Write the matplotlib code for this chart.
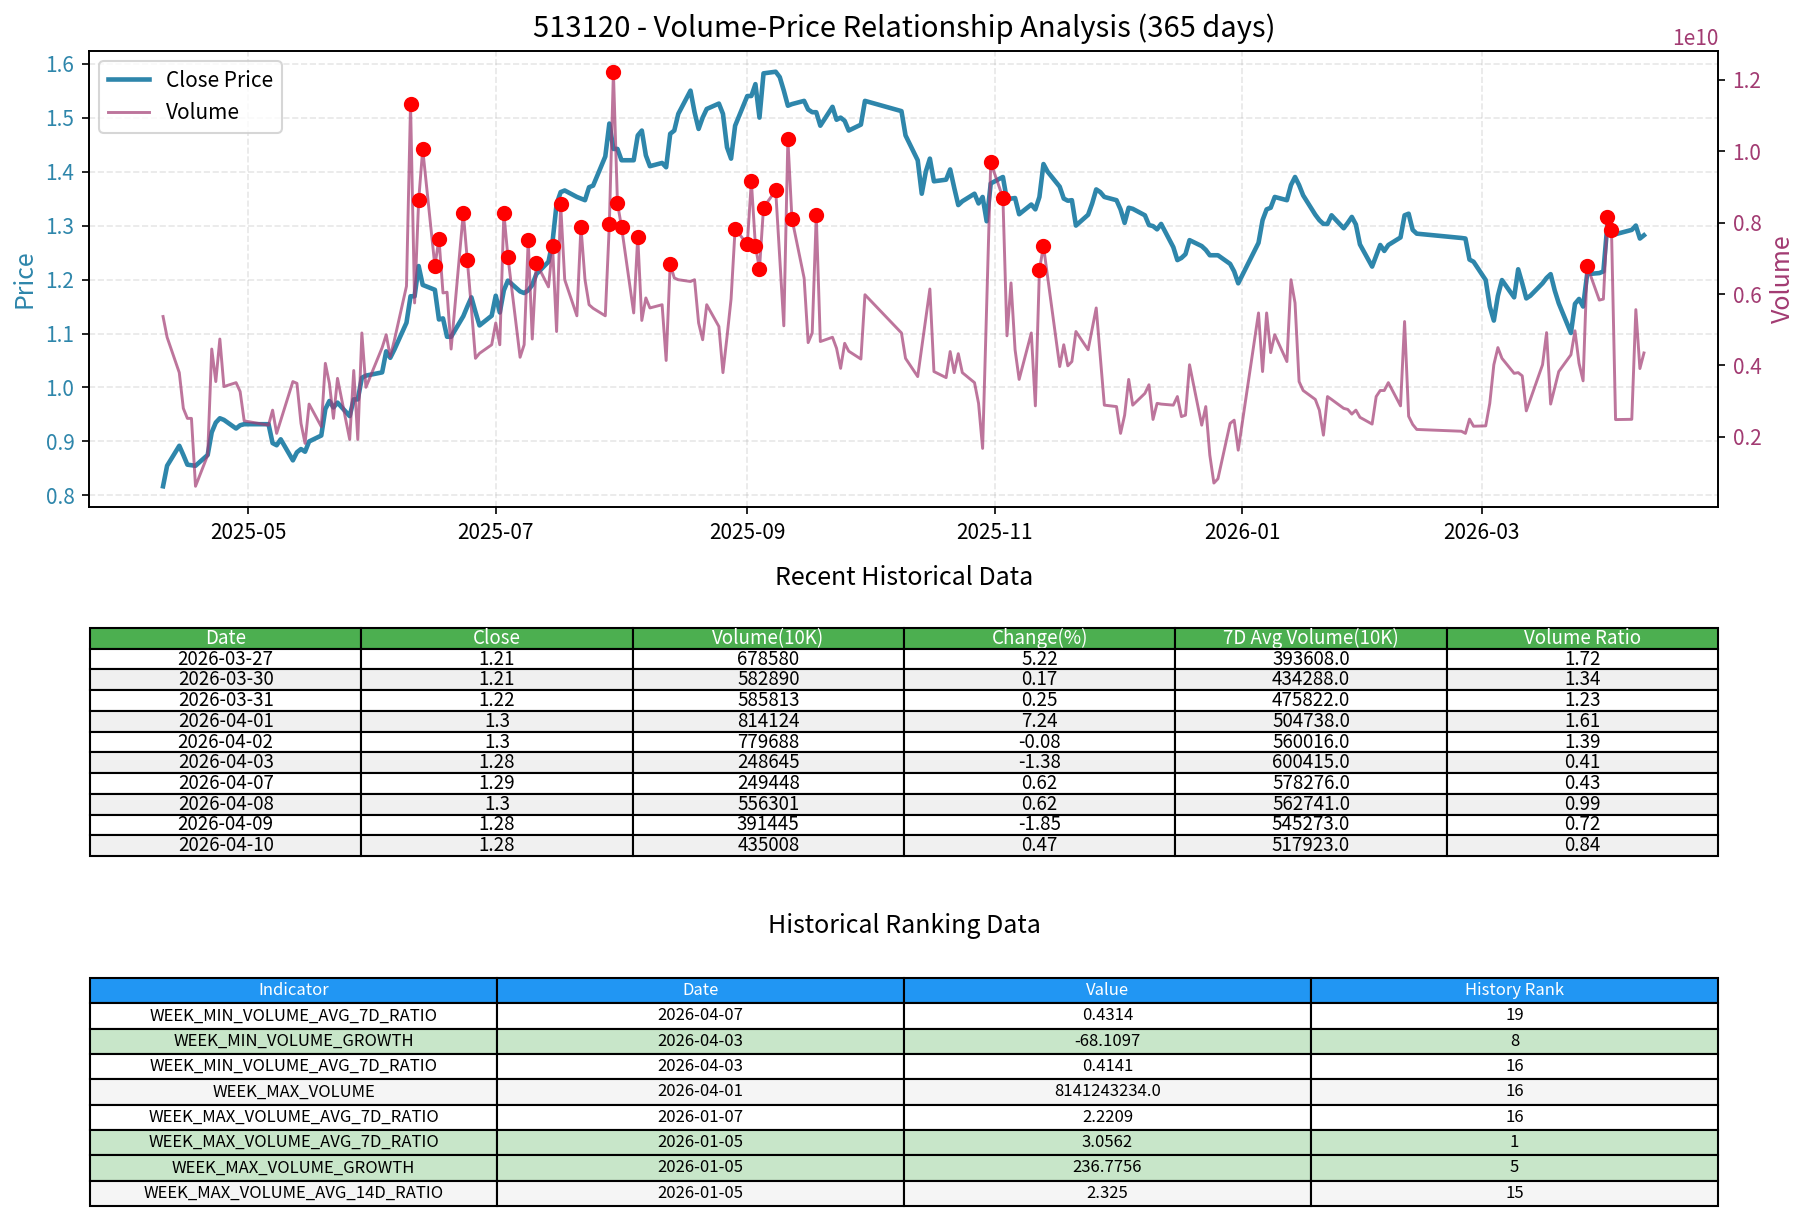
import pandas as pd
import matplotlib.pyplot as plt
import matplotlib.dates as mdates

plt.rcParams['font.family'] = ['Noto Sans CJK SC', 'DejaVu Sans']
plt.rcParams['axes.unicode_minus'] = False

# close price
price_dates = [
    '2025-04-10', '2025-04-11', '2025-04-14', '2025-04-15', '2025-04-16', '2025-04-17', '2025-04-18',
    '2025-04-21', '2025-04-22', '2025-04-23', '2025-04-24', '2025-04-25', '2025-04-28', '2025-04-29',
    '2025-04-30', '2025-05-06', '2025-05-07', '2025-05-08', '2025-05-09', '2025-05-12', '2025-05-13',
    '2025-05-14', '2025-05-15', '2025-05-16', '2025-05-19', '2025-05-20', '2025-05-21', '2025-05-22',
    '2025-05-23', '2025-05-26', '2025-05-27', '2025-05-28', '2025-05-29', '2025-05-30', '2025-06-03',
    '2025-06-04', '2025-06-05', '2025-06-06', '2025-06-09', '2025-06-10', '2025-06-11', '2025-06-12',
    '2025-06-13', '2025-06-16', '2025-06-17', '2025-06-18', '2025-06-19', '2025-06-20', '2025-06-23',
    '2025-06-24', '2025-06-25', '2025-06-26', '2025-06-27', '2025-06-30', '2025-07-01', '2025-07-02',
    '2025-07-03', '2025-07-04', '2025-07-07', '2025-07-08', '2025-07-09', '2025-07-10', '2025-07-11',
    '2025-07-14', '2025-07-15', '2025-07-16', '2025-07-17', '2025-07-18', '2025-07-21', '2025-07-22',
    '2025-07-23', '2025-07-24', '2025-07-25', '2025-07-28', '2025-07-29', '2025-07-30', '2025-07-31',
    '2025-08-01', '2025-08-04', '2025-08-05', '2025-08-06', '2025-08-07', '2025-08-08', '2025-08-11',
    '2025-08-12', '2025-08-13', '2025-08-14', '2025-08-15', '2025-08-18', '2025-08-19', '2025-08-20',
    '2025-08-21', '2025-08-22', '2025-08-25', '2025-08-26', '2025-08-27', '2025-08-28', '2025-08-29',
    '2025-09-01', '2025-09-02', '2025-09-03', '2025-09-04', '2025-09-05', '2025-09-08', '2025-09-09',
    '2025-09-10', '2025-09-11', '2025-09-12', '2025-09-15', '2025-09-16', '2025-09-17', '2025-09-18',
    '2025-09-19', '2025-09-22', '2025-09-23', '2025-09-24', '2025-09-25', '2025-09-26', '2025-09-29',
    '2025-09-30', '2025-10-09', '2025-10-10', '2025-10-13', '2025-10-14', '2025-10-15', '2025-10-16',
    '2025-10-17', '2025-10-20', '2025-10-21', '2025-10-22', '2025-10-23', '2025-10-24', '2025-10-27',
    '2025-10-28', '2025-10-29', '2025-10-30', '2025-10-31', '2025-11-03', '2025-11-04', '2025-11-05',
    '2025-11-06', '2025-11-07', '2025-11-10', '2025-11-11', '2025-11-12', '2025-11-13', '2025-11-14',
    '2025-11-17', '2025-11-18', '2025-11-19', '2025-11-20', '2025-11-21', '2025-11-24', '2025-11-25',
    '2025-11-26', '2025-11-27', '2025-11-28', '2025-12-01', '2025-12-02', '2025-12-03', '2025-12-04',
    '2025-12-05', '2025-12-08', '2025-12-09', '2025-12-10', '2025-12-11', '2025-12-12', '2025-12-15',
    '2025-12-16', '2025-12-17', '2025-12-18', '2025-12-19', '2025-12-22', '2025-12-23', '2025-12-24',
    '2025-12-25', '2025-12-26', '2025-12-29', '2025-12-30', '2025-12-31', '2026-01-05', '2026-01-06',
    '2026-01-07', '2026-01-08', '2026-01-09', '2026-01-12', '2026-01-13', '2026-01-14', '2026-01-15',
    '2026-01-16', '2026-01-19', '2026-01-20', '2026-01-21', '2026-01-22', '2026-01-23', '2026-01-26',
    '2026-01-27', '2026-01-28', '2026-01-29', '2026-01-30', '2026-02-02', '2026-02-03', '2026-02-04',
    '2026-02-05', '2026-02-06', '2026-02-09', '2026-02-10', '2026-02-11', '2026-02-12', '2026-02-13',
    '2026-02-24', '2026-02-25', '2026-02-26', '2026-02-27', '2026-03-02', '2026-03-03', '2026-03-04',
    '2026-03-05', '2026-03-06', '2026-03-09', '2026-03-10', '2026-03-11', '2026-03-12', '2026-03-13',
    '2026-03-16', '2026-03-17', '2026-03-18', '2026-03-19', '2026-03-20', '2026-03-23', '2026-03-24',
    '2026-03-25', '2026-03-26', '2026-03-27', '2026-03-30', '2026-03-31', '2026-04-01', '2026-04-02',
    '2026-04-03', '2026-04-07', '2026-04-08', '2026-04-09', '2026-04-10',
]
price_close = [
    0.817, 0.855, 0.892, 0.875, 0.857, 0.856, 0.855,
    0.875, 0.917, 0.935, 0.943, 0.940, 0.924, 0.930,
    0.932, 0.932, 0.897, 0.893, 0.904, 0.865, 0.880,
    0.886, 0.881, 0.900, 0.911, 0.960, 0.975, 0.963,
    0.972, 0.947, 0.978, 0.978, 1.018, 1.022, 1.028,
    1.067, 1.055, 1.070, 1.120, 1.169, 1.169, 1.225,
    1.190, 1.181, 1.126, 1.128, 1.094, 1.094, 1.132,
    1.150, 1.167, 1.140, 1.115, 1.133, 1.170, 1.139,
    1.180, 1.198, 1.178, 1.175, 1.180, 1.190, 1.210,
    1.233, 1.270, 1.340, 1.362, 1.365, 1.353, 1.350,
    1.347, 1.371, 1.374, 1.428, 1.489, 1.442, 1.442,
    1.421, 1.421, 1.467, 1.476, 1.430, 1.410, 1.416,
    1.408, 1.470, 1.476, 1.507, 1.550, 1.510, 1.479,
    1.500, 1.516, 1.526, 1.507, 1.445, 1.424, 1.485,
    1.540, 1.540, 1.562, 1.500, 1.582, 1.585, 1.575,
    1.550, 1.522, 1.525, 1.531, 1.515, 1.510, 1.510,
    1.485, 1.520, 1.496, 1.500, 1.494, 1.476, 1.487,
    1.531, 1.512, 1.467, 1.421, 1.359, 1.400, 1.424,
    1.382, 1.385, 1.404, 1.370, 1.338, 1.345, 1.359,
    1.341, 1.353, 1.308, 1.378, 1.390, 1.347, 1.350,
    1.351, 1.321, 1.339, 1.330, 1.353, 1.414, 1.400,
    1.372, 1.350, 1.346, 1.347, 1.300, 1.320, 1.341,
    1.367, 1.362, 1.353, 1.347, 1.330, 1.305, 1.333,
    1.331, 1.319, 1.301, 1.299, 1.293, 1.303, 1.260,
    1.236, 1.240, 1.247, 1.273, 1.262, 1.255, 1.245,
    1.245, 1.245, 1.229, 1.215, 1.193, 1.268, 1.310,
    1.330, 1.333, 1.353, 1.347, 1.375, 1.390, 1.375,
    1.356, 1.320, 1.310, 1.303, 1.303, 1.319, 1.295,
    1.305, 1.316, 1.302, 1.265, 1.224, 1.244, 1.264,
    1.253, 1.264, 1.278, 1.319, 1.322, 1.292, 1.285,
    1.277, 1.276, 1.237, 1.233, 1.199, 1.150, 1.124,
    1.170, 1.199, 1.167, 1.219, 1.193, 1.165, 1.170,
    1.193, 1.203, 1.210, 1.180, 1.156, 1.101, 1.155,
    1.164, 1.150, 1.210, 1.212, 1.215, 1.303, 1.302,
    1.284, 1.292, 1.300, 1.276, 1.282,
]

# volume in units of 1e10
vol_dates = [
    '2025-04-10', '2025-04-11', '2025-04-14', '2025-04-15', '2025-04-16', '2025-04-17', '2025-04-18',
    '2025-04-21', '2025-04-22', '2025-04-23', '2025-04-24', '2025-04-25', '2025-04-28', '2025-04-29',
    '2025-04-30', '2025-05-06', '2025-05-07', '2025-05-08', '2025-05-12', '2025-05-13', '2025-05-14',
    '2025-05-15', '2025-05-16', '2025-05-19', '2025-05-20', '2025-05-21', '2025-05-22', '2025-05-23',
    '2025-05-26', '2025-05-27', '2025-05-28', '2025-05-29', '2025-05-30', '2025-06-03', '2025-06-04',
    '2025-06-05', '2025-06-06', '2025-06-09', '2025-06-10', '2025-06-11', '2025-06-12', '2025-06-13',
    '2025-06-16', '2025-06-17', '2025-06-18', '2025-06-19', '2025-06-20', '2025-06-23', '2025-06-24',
    '2025-06-25', '2025-06-26', '2025-06-27', '2025-06-30', '2025-07-01', '2025-07-02', '2025-07-03',
    '2025-07-04', '2025-07-07', '2025-07-08', '2025-07-09', '2025-07-10', '2025-07-11', '2025-07-14',
    '2025-07-15', '2025-07-16', '2025-07-17', '2025-07-18', '2025-07-21', '2025-07-22', '2025-07-23',
    '2025-07-24', '2025-07-25', '2025-07-28', '2025-07-29', '2025-07-30', '2025-07-31', '2025-08-01',
    '2025-08-04', '2025-08-05', '2025-08-06', '2025-08-07', '2025-08-08', '2025-08-11', '2025-08-12',
    '2025-08-13', '2025-08-14', '2025-08-15', '2025-08-18', '2025-08-19', '2025-08-20', '2025-08-21',
    '2025-08-22', '2025-08-25', '2025-08-26', '2025-08-27', '2025-08-28', '2025-08-29', '2025-09-01',
    '2025-09-02', '2025-09-03', '2025-09-04', '2025-09-05', '2025-09-08', '2025-09-10', '2025-09-11',
    '2025-09-12', '2025-09-15', '2025-09-16', '2025-09-17', '2025-09-18', '2025-09-19', '2025-09-22',
    '2025-09-23', '2025-09-24', '2025-09-25', '2025-09-26', '2025-09-29', '2025-09-30', '2025-10-09',
    '2025-10-10', '2025-10-13', '2025-10-16', '2025-10-17', '2025-10-20', '2025-10-21', '2025-10-22',
    '2025-10-23', '2025-10-24', '2025-10-27', '2025-10-28', '2025-10-29', '2025-10-31', '2025-11-03',
    '2025-11-04', '2025-11-05', '2025-11-06', '2025-11-07', '2025-11-10', '2025-11-11', '2025-11-12',
    '2025-11-13', '2025-11-17', '2025-11-18', '2025-11-19', '2025-11-20', '2025-11-21', '2025-11-24',
    '2025-11-26', '2025-11-28', '2025-12-01', '2025-12-02', '2025-12-03', '2025-12-04', '2025-12-05',
    '2025-12-08', '2025-12-09', '2025-12-10', '2025-12-11', '2025-12-12', '2025-12-15', '2025-12-16',
    '2025-12-17', '2025-12-18', '2025-12-19', '2025-12-22', '2025-12-23', '2025-12-24', '2025-12-25',
    '2025-12-26', '2025-12-29', '2025-12-30', '2025-12-31', '2026-01-05', '2026-01-06', '2026-01-07',
    '2026-01-08', '2026-01-09', '2026-01-12', '2026-01-13', '2026-01-14', '2026-01-15', '2026-01-16',
    '2026-01-19', '2026-01-20', '2026-01-21', '2026-01-22', '2026-01-23', '2026-01-26', '2026-01-27',
    '2026-01-28', '2026-01-29', '2026-01-30', '2026-02-02', '2026-02-03', '2026-02-04', '2026-02-05',
    '2026-02-06', '2026-02-09', '2026-02-10', '2026-02-11', '2026-02-12', '2026-02-13', '2026-02-24',
    '2026-02-25', '2026-02-26', '2026-02-27', '2026-03-02', '2026-03-03', '2026-03-04', '2026-03-05',
    '2026-03-06', '2026-03-09', '2026-03-10', '2026-03-11', '2026-03-12', '2026-03-16', '2026-03-17',
    '2026-03-18', '2026-03-20', '2026-03-23', '2026-03-24', '2026-03-25', '2026-03-26', '2026-03-27',
    '2026-03-30', '2026-03-31', '2026-04-01', '2026-04-02', '2026-04-03', '2026-04-07', '2026-04-08',
    '2026-04-09', '2026-04-10',
]
vol_values = [
    0.537, 0.479, 0.380, 0.280, 0.252, 0.252, 0.062,
    0.149, 0.446, 0.355, 0.474, 0.341, 0.352, 0.327,
    0.245, 0.233, 0.275, 0.210, 0.355, 0.350, 0.238,
    0.182, 0.292, 0.229, 0.406, 0.350, 0.252, 0.364,
    0.193, 0.386, 0.193, 0.491, 0.339, 0.450, 0.486,
    0.425, 0.470, 0.622, 1.132, 0.575, 0.862, 1.005,
    0.678, 0.755, 0.603, 0.605, 0.446, 0.827, 0.694,
    0.560, 0.420, 0.434, 0.458, 0.519, 0.458, 0.827,
    0.704, 0.423, 0.458, 0.750, 0.474, 0.687, 0.620,
    0.734, 0.495, 0.851, 0.640, 0.539, 0.788, 0.640,
    0.570, 0.560, 0.539, 0.795, 1.222, 0.854, 0.788,
    0.547, 0.760, 0.526, 0.589, 0.561, 0.570, 0.414,
    0.684, 0.645, 0.640, 0.635, 0.640, 0.519, 0.472,
    0.570, 0.509, 0.380, 0.480, 0.586, 0.783, 0.739,
    0.916, 0.735, 0.670, 0.842, 0.890, 0.511, 1.033,
    0.811, 0.645, 0.464, 0.491, 0.820, 0.467, 0.479,
    0.448, 0.392, 0.462, 0.440, 0.418, 0.598, 0.491,
    0.420, 0.369, 0.614, 0.383, 0.366, 0.439, 0.380,
    0.433, 0.380, 0.352, 0.294, 0.168, 0.968, 0.870,
    0.483, 0.631, 0.444, 0.361, 0.491, 0.287, 0.668,
    0.734, 0.397, 0.458, 0.399, 0.411, 0.495, 0.444,
    0.561, 0.289, 0.285, 0.210, 0.261, 0.361, 0.289,
    0.322, 0.346, 0.249, 0.294, 0.292, 0.289, 0.313,
    0.257, 0.261, 0.402, 0.233, 0.285, 0.149, 0.071,
    0.083, 0.238, 0.247, 0.163, 0.547, 0.383, 0.547,
    0.436, 0.486, 0.411, 0.640, 0.575, 0.355, 0.330,
    0.305, 0.275, 0.205, 0.313, 0.305, 0.280, 0.277,
    0.264, 0.275, 0.255, 0.236, 0.313, 0.330, 0.330,
    0.352, 0.287, 0.523, 0.258, 0.235, 0.221, 0.216,
    0.210, 0.250, 0.230, 0.231, 0.294, 0.402, 0.450,
    0.420, 0.378, 0.380, 0.371, 0.273, 0.402, 0.492,
    0.292, 0.383, 0.430, 0.497, 0.406, 0.357, 0.6786,
    0.5829, 0.5858, 0.8141, 0.7797, 0.2486, 0.2494, 0.5563,
    0.3914, 0.4350,
]
spike_level = 0.655e10

# recent history table
recent_dates = ['2026-03-27', '2026-03-30', '2026-03-31', '2026-04-01', '2026-04-02',
                '2026-04-03', '2026-04-07', '2026-04-08', '2026-04-09', '2026-04-10']
recent_close = [1.21, 1.21, 1.22, 1.3, 1.3, 1.28, 1.29, 1.3, 1.28, 1.28]
recent_volume = [678580, 582890, 585813, 814124, 779688, 248645, 249448, 556301, 391445, 435008]
recent_change = [5.22, 0.17, 0.25, 7.24, -0.08, -1.38, 0.62, 0.62, -1.85, 0.47]
recent_avg7 = [393608.0, 434288.0, 475822.0, 504738.0, 560016.0, 600415.0, 578276.0, 562741.0, 545273.0, 517923.0]
recent_ratio = [1.72, 1.34, 1.23, 1.61, 1.39, 0.41, 0.43, 0.99, 0.72, 0.84]
recent_cols = ['Date', 'Close', 'Volume(10K)', 'Change(%)', '7D Avg Volume(10K)', 'Volume Ratio']

# ranking table
rank_indicator = ['WEEK_MIN_VOLUME_AVG_7D_RATIO', 'WEEK_MIN_VOLUME_GROWTH', 'WEEK_MIN_VOLUME_AVG_7D_RATIO',
                  'WEEK_MAX_VOLUME', 'WEEK_MAX_VOLUME_AVG_7D_RATIO', 'WEEK_MAX_VOLUME_AVG_7D_RATIO',
                  'WEEK_MAX_VOLUME_GROWTH', 'WEEK_MAX_VOLUME_AVG_14D_RATIO']
rank_date = ['2026-04-07', '2026-04-03', '2026-04-03', '2026-04-01',
             '2026-01-07', '2026-01-05', '2026-01-05', '2026-01-05']
rank_value = [0.4314, -68.1097, 0.4141, 8141243234.0, 2.2209, 3.0562, 236.7756, 2.325]
rank_pos = [19, 8, 16, 16, 16, 1, 5, 15]
rank_cols = ['Indicator', 'Date', 'Value', 'History Rank']

W, H = 1808, 1221


def box(l, t, r, b):
    return [l / W, 1 - b / H, (r - l) / W, (b - t) / H]


fig = plt.figure(figsize=(W / 150, H / 150), dpi=150)

ax1 = fig.add_axes(box(89, 51, 1718, 507))
ax1.plot(pd.to_datetime(price_dates), price_close, color='#2E86AB', linewidth=2.2, label='Close Price')
ax1.set_ylabel('Price', color='#2E86AB', fontsize=12)
ax1.tick_params(axis='y', labelcolor='#2E86AB')
ax1.grid(True, linestyle='--', alpha=0.3)
ax1.xaxis.set_major_locator(mdates.MonthLocator(bymonth=[1, 3, 5, 7, 9, 11]))
ax1.xaxis.set_major_formatter(mdates.DateFormatter('%Y-%m'))

ax2 = ax1.twinx()
vol = pd.Series(vol_values, index=pd.to_datetime(vol_dates)) * 1e10
ax2.plot(vol.index, vol.values, color='#A23B72', alpha=0.7, linewidth=1.4, label='Volume')
spikes = vol[vol > spike_level]
ax2.scatter(spikes.index, spikes.values, color='red', s=40, zorder=5)
ax2.set_ylabel('Volume', color='#A23B72', fontsize=12)
ax2.tick_params(axis='y', labelcolor='#A23B72')
ax2.yaxis.get_offset_text().set_color('#A23B72')

h1, l1 = ax1.get_legend_handles_labels()
h2, l2 = ax2.get_legend_handles_labels()
ax2.legend(h1 + h2, l1 + l2, loc='upper left', fontsize=10)

fig.text(0.5, 1 - 29 / H, '513120 - Volume-Price Relationship Analysis (365 days)',
         ha='center', va='center', fontsize=14)

# recent data table
fig.text(0.5, 1 - 578 / H, 'Recent Historical Data', ha='center', va='center', fontsize=12)
rows = []
for i in range(len(recent_dates)):
    rows.append([recent_dates[i], str(recent_close[i]), str(recent_volume[i]),
                 str(recent_change[i]), str(recent_avg7[i]), str(recent_ratio[i])])
ax_t1 = fig.add_axes(box(90, 628, 1718, 856))
ax_t1.axis('off')
t1 = ax_t1.table(cellText=rows, colLabels=recent_cols, cellLoc='center', bbox=[0, 0, 1, 1])
t1.auto_set_font_size(False)
t1.set_fontsize(9)
for (r, c), cell in t1.get_celld().items():
    cell.set_linewidth(1.0)
    if r == 0:
        cell.set_facecolor('#4CAF50')
        cell.set_text_props(color='white')
    elif r % 2 == 0:
        cell.set_facecolor('#f0f0f0')
    else:
        cell.set_facecolor('white')

# ranking table
fig.text(0.5, 1 - 926 / H, 'Historical Ranking Data', ha='center', va='center', fontsize=12)
rows = []
for i in range(len(rank_indicator)):
    rows.append([rank_indicator[i], rank_date[i], str(rank_value[i]), str(rank_pos[i])])
ax_t2 = fig.add_axes(box(90, 978, 1718, 1206))
ax_t2.axis('off')
t2 = ax_t2.table(cellText=rows, colLabels=rank_cols, cellLoc='center', bbox=[0, 0, 1, 1])
t2.auto_set_font_size(False)
t2.set_fontsize(8)
for (r, c), cell in t2.get_celld().items():
    cell.set_linewidth(1.0)
    if r == 0:
        cell.set_facecolor('#2196F3')
        cell.set_text_props(color='white')
    elif rank_pos[r - 1] <= 10:
        cell.set_facecolor('#C8E6C9')
    elif r % 2 == 0:
        cell.set_facecolor('#f5f5f5')
    else:
        cell.set_facecolor('white')

fig.savefig('out.png', dpi=150)
